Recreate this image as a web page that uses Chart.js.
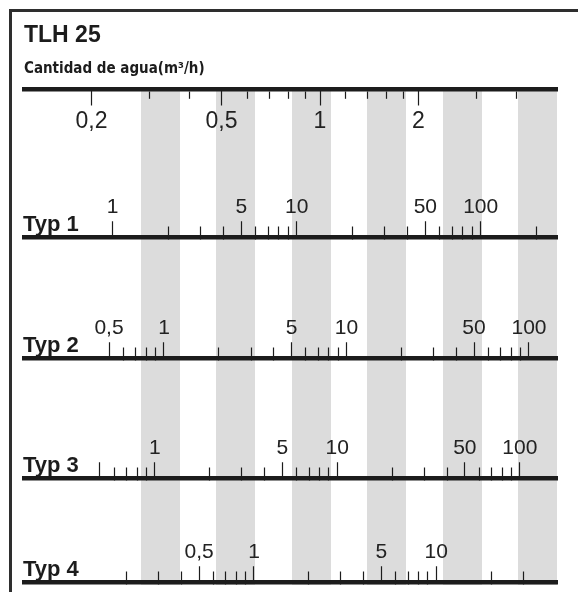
<!DOCTYPE html>
<html>
<head>
<meta charset="utf-8">
<script src="https://cdn.jsdelivr.net/npm/chart.js@4.4.0/dist/chart.umd.min.js"></script>
<style>
  html, body { margin: 0; padding: 0; background: #fff; }
  #wrap { position: relative; width: 578px; height: 592px; }
  #frame { position: absolute; left: 9px; top: 9px; right: 0; bottom: 0;
           border-left: 3px solid #2e2e2e; border-top: 3px solid #2e2e2e; pointer-events: none; }
  canvas { position: absolute; left: 0; top: 0; }
</style>
</head>
<body>
<div id="wrap">
  <canvas id="chart" width="578" height="592"></canvas>
  <div id="frame"></div>
</div>
<script>
// row names
const rowNames = ['Typ 1', 'Typ 2', 'Typ 3', 'Typ 4'];

// water flow scale (m3/h)
const flowMajor = [0.2, 0.5, 1, 2];
const flowLabels = ['0,2', '0,5', '1', '2'];
const flowMinor = [0.3, 0.4, 0.6, 0.7, 0.8, 0.9, 1.2, 1.4, 1.6, 1.8, 3, 4];

const typ1Major = [1, 5, 10, 50, 100];
const typ1Labels = ['1', '5', '10', '50', '100'];
const typ1Minor = [2, 3, 4, 6, 7, 8, 9, 20, 30, 40, 60, 70, 80, 90, 200];

const typ2Major = [0.5, 1, 5, 10, 50, 100];
const typ2Labels = ['0,5', '1', '5', '10', '50', '100'];
const typ2Minor = [0.6, 0.7, 0.8, 0.9, 2, 3, 4, 6, 7, 8, 9, 20, 30, 40, 60, 70, 80, 90];

const typ3Major = [0.5, 1, 5, 10, 50, 100];
const typ3Labels = ['', '1', '5', '10', '50', '100'];
const typ3Minor = [0.6, 0.7, 0.8, 0.9, 2, 3, 4, 6, 7, 8, 9, 20, 30, 40, 60, 70, 80, 90];

const typ4Major = [0.5, 1, 5, 10];
const typ4Labels = ['0,5', '1', '5', '10'];
const typ4Minor = [0.2, 0.3, 0.4, 0.6, 0.7, 0.8, 0.9, 2, 3, 4, 6, 7, 8, 9, 20, 30];

// grey stripes behind the scales
const bandSlots = [0, 1, 2, 3, 4, 5];

const INK = '#1c1c1c';
const BAND = '#dcdcdc';
const SANS = "'Liberation Sans', Arial, sans-serif";

// each row is a log axis placed at a y value of the hidden y scale
const rows = [
  { key: 'flow', y: 89.5, min: 0.1244, max: 5.305, major: flowMajor, labels: flowLabels, minor: flowMinor, up: false },
  { key: 'typ1', y: 237.5, min: 0.3296, max: 259.8, major: typ1Major, labels: typ1Labels, minor: typ1Minor, up: true, name: rowNames[0] },
  { key: 'typ2', y: 358.5, min: 0.1710, max: 142.4, major: typ2Major, labels: typ2Labels, minor: typ2Minor, up: true, name: rowNames[1] },
  { key: 'typ3', y: 478.5, min: 0.1920, max: 159.9, major: typ3Major, labels: typ3Labels, minor: typ3Minor, up: true, name: rowNames[2] },
  { key: 'typ4', y: 582.5, min: 0.05475, max: 45.93, major: typ4Major, labels: typ4Labels, minor: typ4Minor, up: true, name: rowNames[3] }
];

const scales = {
  x: { type: 'linear', display: false },
  y: { type: 'linear', display: false, reverse: true, min: 90, max: 585 },
  bands: {
    type: 'linear', axis: 'x', position: { y: 90 }, min: -1.81, max: 5.259, bounds: 'data',
    afterBuildTicks: s => { s.ticks = bandSlots.map(v => ({ value: v })); },
    ticks: { display: false },
    grid: { lineWidth: 39, color: BAND, drawTicks: false, z: -2 },
    border: { display: false }
  }
};

rows.forEach(r => {
  const base = { type: 'logarithmic', axis: 'x', bounds: 'data', position: { y: r.y }, min: r.min, max: r.max };
  scales[r.key + 'Minor'] = {
    ...base,
    afterBuildTicks: s => { s.ticks = r.minor.map(v => ({ value: v })); },
    ticks: { display: false },
    grid: { drawOnChartArea: false, tickLength: r.up ? -13 : 7.3, tickWidth: 1.2, tickColor: INK },
    border: { display: true, width: 4.5, color: INK }
  };
  scales[r.key + 'Major'] = {
    ...base,
    afterBuildTicks: s => { s.ticks = r.major.map(v => ({ value: v })); },
    ticks: {
      autoSkip: false, maxRotation: 0, color: '#222',
      font: { family: SANS, size: r.up ? 21 : 23 },
      padding: r.up ? -25.85 : 3.2,
      callback: (v, i) => r.labels[i]
    },
    grid: { drawOnChartArea: false, tickLength: r.up ? -16.75 : 15.5, tickWidth: 1.2, tickColor: INK },
    border: { display: false }
  };
});

// "Typ n" names sit on the left end of each row
const rowLabels = {
  id: 'rowLabels',
  afterDraw(chart) {
    const { ctx, chartArea, scales } = chart;
    ctx.save();
    ctx.font = "bold 22px " + SANS;
    ctx.fillStyle = INK;
    ctx.textBaseline = 'alphabetic';
    ctx.textAlign = 'left';
    rows.forEach(r => {
      if (r.name) ctx.fillText(r.name, chartArea.left - 1, scales.y.getPixelForValue(r.y) - 7);
    });
    ctx.restore();
  }
};

Chart.defaults.font.family = SANS;

new Chart(document.getElementById('chart'), {
  type: 'scatter',
  data: { datasets: [] },
  options: {
    responsive: false,
    animation: false,
    events: [],
    layout: { padding: { left: 24, right: 21, top: 0, bottom: 7 } },
    scales: scales,
    plugins: {
      legend: { display: false },
      tooltip: { enabled: false },
      title: {
        display: true, text: 'TLH 25', align: 'start', color: INK,
        font: { family: SANS, size: 23, weight: 'bold' },
        padding: { top: 21.7, bottom: 0 }
      },
      subtitle: {
        display: true, text: 'Cantidad de agua(m³/h)', align: 'start', color: INK,
        font: { family: "'DejaVu Sans Condensed', 'DejaVu Sans', sans-serif", size: 15, weight: 'bold' },
        padding: { top: 11.2, bottom: 11.5 }
      }
    }
  },
  plugins: [rowLabels]
});
</script>
</body>
</html>
